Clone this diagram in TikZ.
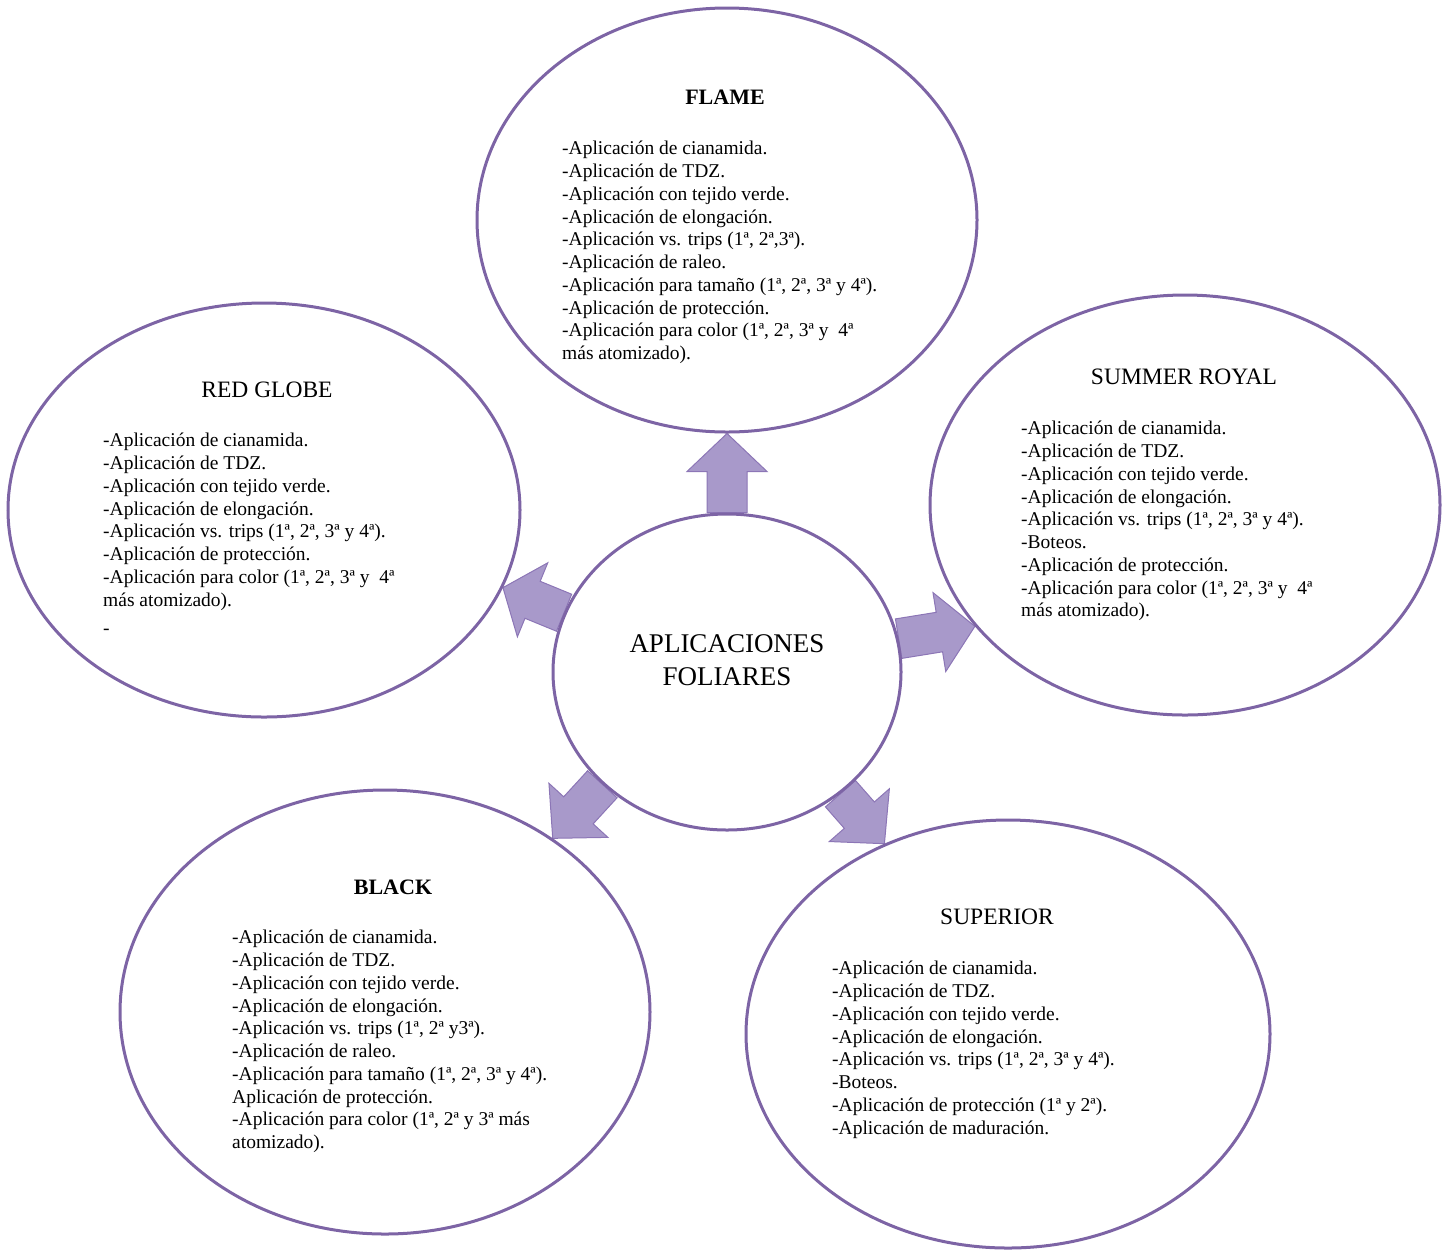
\documentclass[tikz,border=0pt]{standalone}
\usepackage{fontspec}
\setmainfont{Liberation Serif}
\usetikzlibrary{shapes.geometric,calc,backgrounds}
\definecolor{ringc}{RGB}{125,100,165}
\definecolor{arrfill}{RGB}{168,153,202}
\definecolor{arrline}{RGB}{140,118,182}
\tikzset{
  bubble/.style={draw=ringc, line width=3pt, ellipse, inner sep=0pt},
  blockarrow/.style={fill=arrfill, draw=arrline, line width=1pt, line join=miter},
  itemtext/.style={anchor=north west, align=left, inner sep=0pt, font=\fontsize{19.5}{22.75}\selectfont},
  titletext/.style={inner sep=0pt, font=\fontsize{23.5}{28}\selectfont},
  boldtitle/.style={inner sep=0pt, font=\fontsize{22}{26}\selectfont\bfseries},
  hubtext/.style={inner sep=0pt, align=center, font=\fontsize{27}{33}\selectfont},
}
\newcommand{\blockarr}[3][38]{%
  \coordinate (hb) at ($(#3)!#1pt!(#2)$);
  \draw[blockarrow] ($(#2)!20pt!90:(#3)$) -- ($(hb)!20pt!-90:(#2)$) -- ($(hb)!40pt!-90:(#2)$) -- (#3) -- ($(hb)!40pt!90:(#2)$) -- ($(hb)!20pt!90:(#2)$) -- ($(#2)!20pt!-90:(#3)$) -- cycle;
}
\begin{document}
\begin{tikzpicture}[x=1pt,y=-1pt]
\useasboundingbox (0,0) rectangle (1447,1251);

% bubbles
\node[bubble, minimum width=500pt, minimum height=424pt] (flame) at (727,220) {};
\node[bubble, minimum width=512pt, minimum height=414pt] (redglobe) at (264,510) {};
\node[bubble, minimum width=510pt, minimum height=420pt] (summer) at (1185,505) {};
\node[bubble, minimum width=348pt, minimum height=316pt] (hub) at (727,672) {};
\node[bubble, minimum width=530pt, minimum height=444pt] (black) at (385,1012) {};
\node[bubble, minimum width=524pt, minimum height=428pt] (superior) at (1008,1034) {};

% arrows
\begin{scope}[on background layer]
\blockarr{hub.90}{flame.270}
\blockarr[36]{hub.11}{summer.210}
\blockarr[32]{hub.160}{redglobe.342}
\blockarr{hub.222}{black.46}
\blockarr{hub.313}{superior.123}
\end{scope}

% hub text
\node[hubtext] (hubt) at (727,660) {APLICACIONES\\FOLIARES};

% FLAME
\node[boldtitle] (flamet) at (725,97) {FLAME};
\node[itemtext] (flamel) at (562,141) {-Aplicación de cianamida.\\
-Aplicación de TDZ.\\
-Aplicación con tejido verde.\\
-Aplicación de elongación.\\
-Aplicación vs. trips (1ª, 2ª,3ª).\\
-Aplicación de raleo.\\
-Aplicación para tamaño (1ª, 2ª, 3ª y 4ª).\\
-Aplicación de protección.\\
-Aplicación para color (1ª, 2ª, 3ª y~~4ª\\
más atomizado).};

% RED GLOBE
\node[titletext] (redt) at (267,390) {RED GLOBE};
\node[itemtext] (redl) at (103,433) {-Aplicación de cianamida.\\
-Aplicación de TDZ.\\
-Aplicación con tejido verde.\\
-Aplicación de elongación.\\
-Aplicación vs. trips (1ª, 2ª, 3ª y 4ª).\\
-Aplicación de protección.\\
-Aplicación para color (1ª, 2ª, 3ª y~~4ª\\
más atomizado).\\[6pt]
-};

% SUMMER ROYAL
\node[titletext] (summert) at (1184,377) {SUMMER ROYAL};
\node[itemtext] (summerl) at (1021,421) {-Aplicación de cianamida.\\
-Aplicación de TDZ.\\
-Aplicación con tejido verde.\\
-Aplicación de elongación.\\
-Aplicación vs. trips (1ª, 2ª, 3ª y 4ª).\\
-Boteos.\\
-Aplicación de protección.\\
-Aplicación para color (1ª, 2ª, 3ª y~~4ª\\
más atomizado).};

% BLACK
\node[boldtitle] (blackt) at (393,887) {BLACK};
\node[itemtext] (blackl) at (232,930) {-Aplicación de cianamida.\\
-Aplicación de TDZ.\\
-Aplicación con tejido verde.\\
-Aplicación de elongación.\\
-Aplicación vs. trips (1ª, 2ª y3ª).\\
-Aplicación de raleo.\\
-Aplicación para tamaño (1ª, 2ª, 3ª y 4ª).\\
Aplicación de protección.\\
-Aplicación para color (1ª, 2ª y 3ª más\\
atomizado).};

% SUPERIOR
\node[titletext] (superiort) at (997,917) {SUPERIOR};
\node[itemtext] (superiorl) at (832,961) {-Aplicación de cianamida.\\
-Aplicación de TDZ.\\
-Aplicación con tejido verde.\\
-Aplicación de elongación.\\
-Aplicación vs. trips (1ª, 2ª, 3ª y 4ª).\\
-Boteos.\\
-Aplicación de protección (1ª y 2ª).\\
-Aplicación de maduración.};
\end{tikzpicture}
\end{document}
